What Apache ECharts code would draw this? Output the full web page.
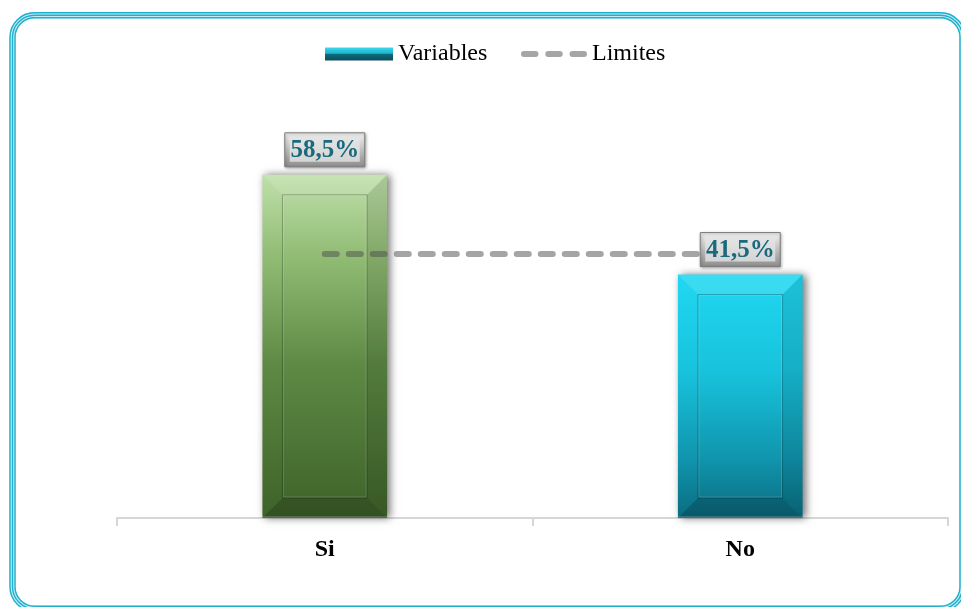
<!DOCTYPE html>
<html>
<head>
<meta charset="utf-8">
<script src="https://cdn.jsdelivr.net/npm/echarts@6/dist/echarts.min.js"></script>
<style>
  html, body { margin: 0; padding: 0; background: #ffffff; }
  #chart { width: 961px; height: 607px; }
</style>
</head>
<body>
<div id="chart"></div>
<script>
// Survey answers (percent) and the reference limit drawn across them
const categories = ['Si', 'No'];
const variableValues = [58.5, 41.5];
const limitValues = [45, 45];
const seriesNames = ['Variables', 'Limites'];

// Vertical gradient stops per bar
const barPalettes = [
  [[0, '#bfe0aa'], [0.25, '#8fba72'], [0.55, '#5e8a45'], [1, '#3e6229']],
  [[0, '#20d8f2'], [0.4, '#18c2dc'], [0.75, '#1096ae'], [1, '#0b6c80']]
];

const vGrad = (stops) => new echarts.graphic.LinearGradient(0, 0, 0, 1,
  stops.map(s => ({ offset: s[0], color: s[1] })));

const fmt = v => v.toFixed(1).replace('.', ',') + '%';
const serif = '"Liberation Serif", "Times New Roman", serif';

function renderBar(params, api) {
  const i = api.value(0);
  const v = api.value(1);
  const top = api.coord([i, v]);
  const base = api.coord([i, 0]);
  const bw = api.size([1, 0])[0] * 0.3;
  const x0 = top[0] - bw / 2, x1 = top[0] + bw / 2;
  const y0 = top[1], y1 = base[1];
  const b = 20;
  const ix0 = x0 + b, ix1 = x1 - b, iy0 = y0 + b, iy1 = y1 - b;
  const pal = barPalettes[i];
  const face = (pts, fill) => ({ type: 'polygon', shape: { points: pts }, style: { fill: fill } });
  return {
    type: 'group',
    children: [
      {
        type: 'rect',
        shape: { x: x0, y: y0, width: bw, height: y1 - y0 },
        style: {
          fill: vGrad(pal),
          shadowBlur: 8, shadowOffsetX: 3, shadowOffsetY: 0,
          shadowColor: 'rgba(0,0,0,0.55)'
        }
      },
      face([[x0, y0], [x1, y0], [ix1, iy0], [ix0, iy0]], 'rgba(255,255,255,0.12)'),
      face([[x1, y0], [x1, y1], [ix1, iy1], [ix1, iy0]], 'rgba(0,0,0,0.1)'),
      face([[x0, y1], [ix0, iy1], [ix1, iy1], [x1, y1]], 'rgba(0,0,0,0.18)'),
      {
        type: 'rect',
        shape: { x: ix0, y: iy0, width: ix1 - ix0, height: iy1 - iy0 },
        style: { fill: 'none', stroke: 'rgba(0,0,0,0.25)', lineWidth: 1 }
      },
      {
        type: 'rect',
        shape: { x: ix0 + 1, y: iy0 + 1, width: ix1 - ix0 - 2, height: iy1 - iy0 - 2 },
        style: { fill: 'none', stroke: 'rgba(255,255,255,0.15)', lineWidth: 1 }
      },
      {
        type: 'line',
        shape: { x1: x0, y1: y1 - 1, x2: x1, y2: y1 - 1 },
        style: { stroke: 'rgba(255,255,255,0.35)', lineWidth: 1 }
      }
    ]
  };
}

function renderLabel(params, api) {
  const i = api.value(0);
  const v = api.value(1);
  const top = api.coord([i, v]);
  const w = 80, h = 34;
  const x = top[0] - w / 2, y = top[1] - 8 - h;
  return {
    type: 'group',
    children: [
      {
        type: 'rect',
        shape: { x: x, y: y, width: w, height: h },
        style: {
          fill: vGrad([[0, '#f4f4f4'], [1, '#8c8c8c']]),
          stroke: '#7c7c7c', lineWidth: 1,
          shadowBlur: 3, shadowOffsetX: 1, shadowOffsetY: 1,
          shadowColor: 'rgba(0,0,0,0.35)'
        }
      },
      {
        type: 'rect',
        shape: { x: x + 5, y: y + 5, width: w - 10, height: h - 10 },
        style: { fill: vGrad([[0, '#e4e4e4'], [1, '#d4d4d4']]) }
      },
      {
        type: 'text',
        x: top[0],
        y: y + h / 2 + 1,
        style: {
          text: fmt(v),
          fill: '#1a6a7d',
          font: 'bold 25px ' + serif,
          align: 'center',
          verticalAlign: 'middle'
        }
      }
    ]
  };
}

const chart = echarts.init(document.getElementById('chart'), null, { renderer: 'canvas' });

// Triple-line rounded frame around the chart area
const frameX = 12.5, frameY = 15.3, frameW = 950, frameH = 593.5, frameR = 22;
const frameRect = (d, lw, color) => ({
  type: 'rect',
  silent: true,
  z: -10,
  shape: { x: frameX + d, y: frameY + d, width: frameW - 2 * d, height: frameH - 2 * d, r: frameR - d },
  style: { fill: 'none', stroke: color, lineWidth: lw }
});

// Three rounded dashes for the limit line's legend icon
const dashIcon = 'path://M3,0 H15 A3,3 0 0 1 15,6 H3 A3,3 0 0 1 3,0 Z ' +
  'M28,0 H40 A3,3 0 0 1 40,6 H28 A3,3 0 0 1 28,0 Z ' +
  'M53,0 H65 A3,3 0 0 1 65,6 H53 A3,3 0 0 1 53,0 Z';

const legendText = { fontFamily: serif, fontSize: 24, color: '#000000' };

chart.setOption({
  animation: false,
  backgroundColor: '#ffffff',
  graphic: [
    frameRect(0, 6.5, '#c6edf5'),
    frameRect(-2.5, 1.4, '#20afcc'),
    frameRect(0, 1.4, '#20afcc'),
    frameRect(2.5, 1.4, '#20afcc')
  ],
  legend: [
    {
      left: 320,
      top: 37,
      itemWidth: 68,
      itemHeight: 13,
      textStyle: legendText,
      data: [{
        name: seriesNames[0],
        icon: 'rect',
        itemStyle: { color: vGrad([[0, '#3fd8ee'], [0.45, '#18b4cc'], [0.52, '#0e6a7c'], [1, '#0b4e5c']]) }
      }]
    },
    {
      left: 516,
      top: 37,
      itemWidth: 66,
      itemHeight: 6,
      textStyle: legendText,
      data: [{
        name: seriesNames[1],
        icon: dashIcon,
        itemStyle: { color: '#a6a6a6' }
      }]
    }
  ],
  grid: { left: 117, right: 13, top: 166, bottom: 89 },
  xAxis: {
    type: 'category',
    data: categories,
    boundaryGap: true,
    axisLine: { lineStyle: { color: '#d6d6d6', width: 2 } },
    axisTick: { show: true, length: 8, lineStyle: { color: '#d6d6d6', width: 2 } },
    axisLabel: {
      margin: 20,
      fontFamily: serif,
      fontWeight: 'bold',
      fontSize: 24,
      color: '#000000'
    },
    splitLine: { show: false }
  },
  yAxis: {
    type: 'value',
    min: 0,
    max: 60,
    show: false,
    splitLine: { show: false }
  },
  series: [
    {
      name: seriesNames[0],
      type: 'custom',
      z: 2,
      renderItem: renderBar,
      encode: { x: 0, y: 1 },
      itemStyle: { color: '#18b4cc' },
      data: variableValues.map((v, i) => [i, v])
    },
    {
      name: seriesNames[1],
      type: 'line',
      z: 3,
      symbol: 'none',
      lineStyle: { color: 'rgba(75,75,75,0.5)', width: 6, type: [12, 12], cap: 'round' },
      itemStyle: { color: 'rgba(75,75,75,0.5)' },
      data: limitValues
    },
    {
      name: 'etiquetas',
      type: 'custom',
      z: 4,
      renderItem: renderLabel,
      encode: { x: 0, y: 1 },
      data: variableValues.map((v, i) => [i, v])
    }
  ]
});
</script>
</body>
</html>
